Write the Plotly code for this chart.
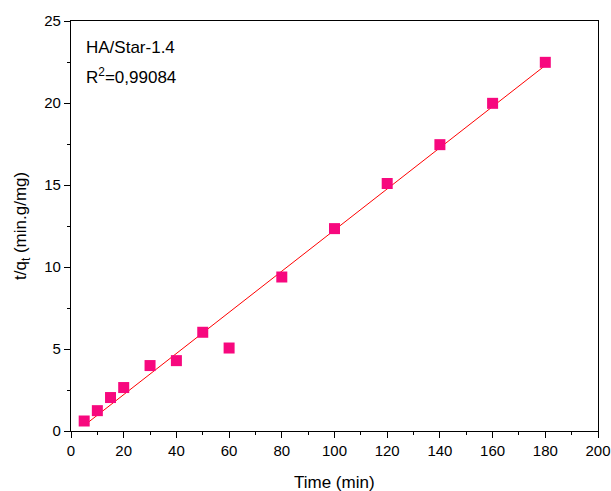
import numpy as np
import plotly.graph_objects as go

time_min = [5, 10, 15, 20, 30, 40, 50, 60, 80, 100, 120, 140, 160, 180]
t_qt = [0.61, 1.24, 2.04, 2.65, 3.99, 4.29, 6.02, 5.06, 9.39, 12.34, 15.09, 17.46, 19.98, 22.48]

label_sample = "HA/Star-1.4"
label_r2 = "R<sup>2</sup>=0,99084"
x_title = "Time (min)"
y_title = "t/q<sub>t</sub> (min.g/mg)"

slope, intercept = np.polyfit(time_min, t_qt, 1)
fit_x = [time_min[0], time_min[-1]]
fit_y = [slope * v + intercept for v in fit_x]

FONT = "Liberation Sans, Arial"

fig = go.Figure()
fig.add_trace(go.Scatter(x=fit_x, y=fit_y, mode="lines",
                         line=dict(color="#FF0000", width=1), showlegend=False))
fig.add_trace(go.Scatter(x=time_min, y=t_qt, mode="markers",
                         marker=dict(symbol="square", size=11, color="#F7087E",
                                     line=dict(width=0)), showlegend=False))

axis_common = dict(showline=True, linecolor="black", linewidth=1.3, mirror=True,
                   ticks="outside", ticklen=6, tickwidth=1.3, tickcolor="black",
                   showgrid=False, zeroline=False, automargin=False,
                   tickfont=dict(family=FONT, size=15, color="black"))

fig.update_xaxes(range=[0, 200], tick0=0, dtick=20,
                 minor=dict(ticks="outside", ticklen=3, dtick=10, tickcolor="black", tickwidth=1.3),
                 **axis_common)
fig.update_yaxes(range=[0, 25], tick0=0, dtick=5,
                 minor=dict(ticks="outside", ticklen=3, dtick=2.5, tickcolor="black", tickwidth=1.3),
                 **axis_common)

fig.add_annotation(x=0.5, y=-0.125, xref="paper", yref="paper", xanchor="center", yanchor="middle",
                   text=x_title, showarrow=False,
                   font=dict(family=FONT, size=17, color="black"))
fig.add_annotation(x=-0.093, y=0.5, xref="paper", yref="paper", xanchor="center", yanchor="middle",
                   text=y_title, showarrow=False, textangle=-90,
                   font=dict(family=FONT, size=17, color="black"))

fig.add_annotation(x=0.025, y=0.935, xref="paper", yref="paper", xanchor="left", yanchor="middle",
                   text=label_sample, showarrow=False,
                   font=dict(family=FONT, size=17, color="black"))
fig.add_annotation(x=0.025, y=0.865, xref="paper", yref="paper", xanchor="left", yanchor="middle",
                   text=label_r2, showarrow=False,
                   font=dict(family=FONT, size=17, color="black"))

fig.update_layout(width=611, height=491, margin=dict(l=71, r=13, t=21, b=60),
                  plot_bgcolor="white", paper_bgcolor="white")

fig.write_html("out.html", config={"displayModeBar": False},
               post_script="document.body.style.margin='0';document.body.style.overflow='hidden';")
